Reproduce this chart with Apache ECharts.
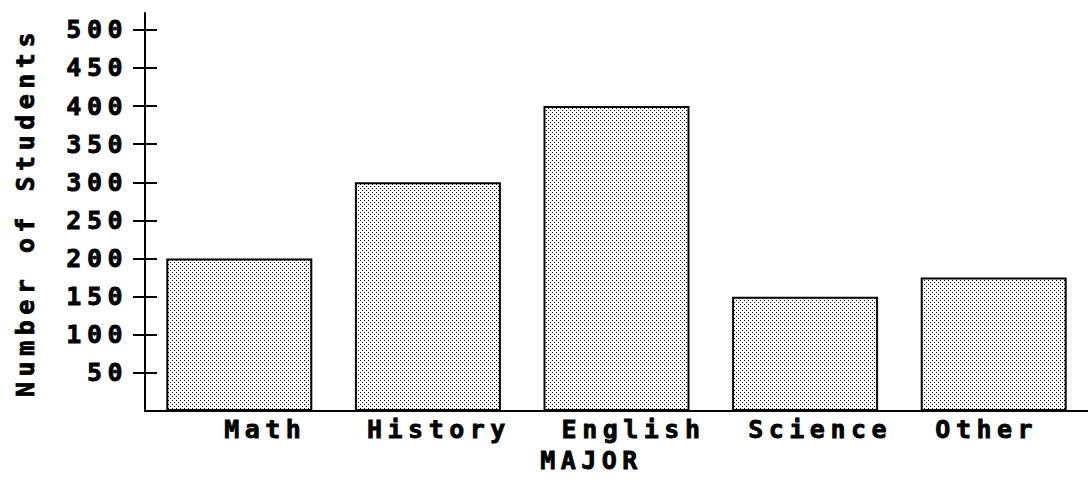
<!DOCTYPE html>
<html>
<head>
<meta charset="utf-8">
<script src="https://cdn.jsdelivr.net/npm/echarts@6/dist/echarts.min.js"></script>
<style>
  html, body { margin: 0; padding: 0; background: #fff; }
  #chart { width: 1088px; height: 490px; }
  #chart svg text { letter-spacing: 5.5px; }
</style>
</head>
<body>
<div id="chart"></div>
<script>
const categories = ['Math', 'History', 'English', 'Science', 'Other'];
const students = [200, 300, 400, 150, 175];
const yTicks = [50, 100, 150, 200, 250, 300, 350, 400, 450, 500];
const labelShift = [[0, 0, 0, 52], [0, 0, 0, 22], [0, 0, 0, 34], [0, 0, 0, 30], [0, 14, 0, 0]];

const tile = document.createElement('canvas');
tile.width = 4; tile.height = 4;
const tc = tile.getContext('2d');
tc.fillStyle = '#ffffff'; tc.fillRect(0, 0, 4, 4);
tc.fillStyle = '#000000';
tc.fillRect(0, 0, 1, 1);
tc.fillRect(2, 2, 1, 1);
const patternUrl = tile.toDataURL();

const FONT = 'DejaVu Sans Mono';
const FS = 25;
const heavy = { color: '#000', fontFamily: FONT, fontWeight: 'bold', fontSize: FS, textBorderColor: '#000', textBorderWidth: 0.8 };
const chart = echarts.init(document.getElementById('chart'), null, { renderer: 'svg' });
chart.setOption({
  animation: false,
  backgroundColor: '#ffffff',
  grid: { left: 145, width: 950, top: 13, bottom: 79 },
  xAxis: {
    type: 'category',
    data: categories.map((c, i) => ({ value: c, textStyle: { padding: labelShift[i] } })),
    name: 'MAJOR',
    nameLocation: 'middle',
    nameGap: 37,
    nameTextStyle: Object.assign({}, heavy, { padding: [0, 50, 0, 0] }),
    axisLine: { lineStyle: { color: '#000', width: 2 } },
    axisTick: { show: false },
    axisLabel: Object.assign({}, heavy, { margin: 6 })
  },
  yAxis: [
    {
      type: 'value', min: 0, max: 522,
      name: 'Number of Students',
      nameLocation: 'middle',
      nameGap: 107,
      nameTextStyle: heavy,
      axisLine: { show: true, lineStyle: { color: '#000', width: 2 } },
      axisTick: { show: true, length: 12, customValues: yTicks, lineStyle: { color: '#000', width: 2 } },
      axisLabel: Object.assign({}, heavy, { margin: 17, customValues: yTicks }),
      splitLine: { show: false }
    },
    {
      type: 'value', min: 0, max: 522, position: 'left',
      axisLine: { show: false },
      axisTick: { show: true, inside: true, length: 12, customValues: yTicks, lineStyle: { color: '#000', width: 2 } },
      axisLabel: { show: false },
      splitLine: { show: false }
    }
  ],
  series: [{
    type: 'bar',
    data: students,
    barWidth: 146,
    itemStyle: {
      color: { image: patternUrl, repeat: 'repeat', imageWidth: 4, imageHeight: 4 },
      borderColor: '#000',
      borderWidth: 2
    }
  }]
});
</script>
</body>
</html>
